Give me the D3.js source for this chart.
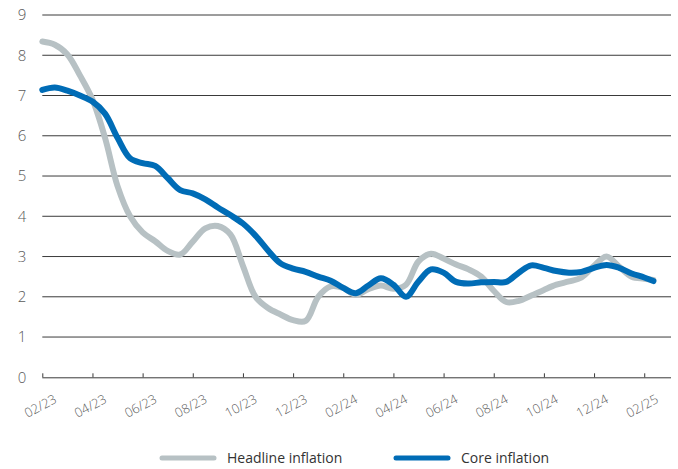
<!DOCTYPE html>
<html>
<head>
<meta charset="utf-8">
<script src="https://cdn.jsdelivr.net/npm/d3@7"></script>
<style>
  html, body { margin: 0; padding: 0; background: #fff; }
  svg { display: block; font-family: "Open Sans", "Noto Sans", sans-serif; }
</style>
</head>
<body>
<svg id="chart" width="678" height="469"></svg>
<script>
// Semi-monthly observations, Feb 2023 – Feb 2025
const sampleDates = [
  "2023-02-01","2023-02-16","2023-03-01","2023-03-16","2023-04-01","2023-04-16",
  "2023-05-01","2023-05-16","2023-06-01","2023-06-16","2023-07-01","2023-07-16",
  "2023-08-01","2023-08-16","2023-09-01","2023-09-16","2023-10-01","2023-10-16",
  "2023-11-01","2023-11-16","2023-12-01","2023-12-16","2024-01-01","2024-01-16",
  "2024-02-01","2024-02-16","2024-03-01","2024-03-16","2024-04-01","2024-04-16",
  "2024-05-01","2024-05-16","2024-06-01","2024-06-16","2024-07-01","2024-07-16",
  "2024-08-01","2024-08-16","2024-09-01","2024-09-16","2024-10-01","2024-10-16",
  "2024-11-01","2024-11-16","2024-12-01","2024-12-16","2025-01-01","2025-01-16",
  "2025-02-01","2025-02-12"
];

const headline = [
  8.34, 8.26, 8.02, 7.50, 6.90, 5.95, 4.75, 4.00, 3.60, 3.38,
  3.14, 3.05, 3.37, 3.70, 3.76, 3.55, 2.77, 2.00, 1.72, 1.56,
  1.42, 1.40, 2.00, 2.26, 2.22, 2.05, 2.19, 2.28, 2.20, 2.30,
  2.88, 3.07, 2.95, 2.80, 2.68, 2.50, 2.15, 1.87, 1.90, 2.03,
  2.17, 2.30, 2.38, 2.48, 2.77, 3.00, 2.75, 2.50, 2.45, 2.42
];

const core = [
  7.14, 7.20, 7.12, 7.00, 6.85, 6.55, 5.95, 5.44, 5.32, 5.25,
  4.95, 4.65, 4.57, 4.42, 4.22, 4.03, 3.82, 3.52, 3.15, 2.83,
  2.70, 2.62, 2.50, 2.40, 2.22, 2.09, 2.28, 2.46, 2.30, 2.00,
  2.38, 2.68, 2.60, 2.37, 2.33, 2.36, 2.37, 2.37, 2.60, 2.78,
  2.72, 2.64, 2.60, 2.62, 2.72, 2.79, 2.72, 2.58, 2.48, 2.39
];

const monthLabels = ["02/23","04/23","06/23","08/23","10/23","12/23","02/24",
                     "04/24","06/24","08/24","10/24","12/24","02/25"];
const yTicks = [0,1,2,3,4,5,6,7,8,9];

const seriesNames = ["Headline inflation", "Core inflation"];
const seriesColors = ["#b7c1c4", "#006cb6"];

// Month offset from Feb 2023 for a "YYYY-MM-DD" string
function monthOffset(s) {
  const [yr, m, d] = s.split("-").map(Number);
  return (yr - 2023) * 12 + (m - 2) + (d - 1) / 30;
}
function labelOffset(s) {
  const [m, yr] = s.split("/").map(Number);
  return (2000 + yr - 2023) * 12 + (m - 2);
}

const svg = d3.select("#chart");
const plotLeft = 42.3, plotRight = 669.3, plotTop = 15, plotBottom = 377.3;

const x = d3.scaleLinear().domain([0, 25]).range([plotLeft, plotRight]);
const y = d3.scaleLinear().domain([0, 9]).range([plotBottom, plotTop]);

// Horizontal gridlines
svg.append("g")
  .selectAll("line")
  .data(yTicks.filter(v => v > 0))
  .join("line")
  .attr("x1", plotLeft).attr("x2", 671)
  .attr("y1", d => y(d)).attr("y2", d => y(d))
  .attr("stroke", "#3a3a3a").attr("stroke-width", 1);

// Y tick labels
svg.append("g")
  .selectAll("text")
  .data(yTicks)
  .join("text")
  .attr("x", 22)
  .attr("y", d => y(d))
  .attr("dy", "0.36em")
  .attr("text-anchor", "middle")
  .attr("font-size", 15)
  .attr("font-weight", 300)
  .attr("fill", "#5a5a5a")
  .text(d => d);

// X axis baseline with inward ticks
const xAxis = d3.axisBottom(x)
  .tickValues(monthLabels.map(labelOffset))
  .tickSizeInner(-4)
  .tickSizeOuter(0)
  .tickFormat("");
const gx = svg.append("g").attr("transform", `translate(0,${plotBottom})`).call(xAxis);
gx.select(".domain").attr("stroke", "#3a3a3a").attr("d", `M${plotLeft},0.5H671`);
gx.selectAll(".tick line").attr("stroke", "#3a3a3a");

// Rotated month labels
svg.append("g")
  .selectAll("text")
  .data(monthLabels)
  .join("text")
  .attr("transform", d => `translate(${x(labelOffset(d)) - 2},${406}) rotate(-28)`)
  .attr("dy", "0.35em")
  .attr("text-anchor", "middle")
  .attr("font-size", 13)
  .attr("font-weight", 300)
  .attr("fill", "#5a5a5a")
  .text(d => d);

// Lines
const line = d3.line()
  .x(d => x(d.t))
  .y(d => y(d.v))
  .curve(d3.curveCatmullRom.alpha(0.5));

const series = [headline, core].map(vals =>
  sampleDates.map((s, i) => ({ t: monthOffset(s), v: vals[i] })));

svg.append("g")
  .selectAll("path")
  .data(series)
  .join("path")
  .attr("d", line)
  .attr("fill", "none")
  .attr("stroke", (d, i) => seriesColors[i])
  .attr("stroke-width", 6)
  .attr("stroke-linecap", "round")
  .attr("stroke-linejoin", "round");

// Legend
const legendItems = [
  { name: seriesNames[0], color: seriesColors[0], x0: 160 },
  { name: seriesNames[1], color: seriesColors[1], x0: 394 }
];
const lg = svg.append("g")
  .selectAll("g")
  .data(legendItems)
  .join("g")
  .attr("transform", d => `translate(${d.x0},458)`);
lg.append("line")
  .attr("x1", 2).attr("x2", 54)
  .attr("stroke", d => d.color)
  .attr("stroke-width", 5)
  .attr("stroke-linecap", "round");
lg.append("text")
  .attr("x", 67)
  .attr("dy", "0.35em")
  .attr("font-size", 14)
  .attr("fill", "#333")
  .text(d => d.name);
</script>
</body>
</html>
